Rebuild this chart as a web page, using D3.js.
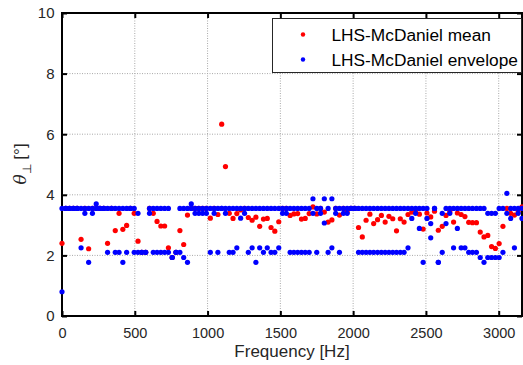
<!DOCTYPE html>
<html lang="en">
  <head>
    <meta charset="UTF-8" />
    <title>d3</title>
    <script src="https://d3js.org/d3.v7.min.js"></script>
    <style>
      body { margin: 0; background: #fff; }
      svg text { font-family: 'Liberation Sans', Arial, sans-serif; }
      .grid line { stroke: #a8a8a8; stroke-width: 1; stroke-dasharray: 1, 1.5; }
    </style>
  </head>
  <body></body>
  <script type="text/javascript">
    var width = 523,
      height = 365;

    // frequencies [Hz]
    var freq = [
      0, 26, 52, 78, 104, 131, 157, 183, 209, 235,
      261, 287, 313, 340, 366, 392, 418, 444, 470, 496,
      522, 548, 575, 601, 627, 653, 679, 705, 731, 757,
      783, 810, 836, 862, 888, 914, 940, 966, 992, 1019,
      1045, 1071, 1097, 1123, 1149, 1175, 1201, 1227, 1254, 1280,
      1306, 1332, 1358, 1384, 1410, 1436, 1462, 1489, 1515, 1541,
      1567, 1593, 1619, 1645, 1671, 1698, 1724, 1750, 1776, 1802,
      1828, 1854, 1880, 1906, 1933, 1959, 1985, 2011, 2037, 2063,
      2089, 2115, 2141, 2168, 2194, 2220, 2246, 2272, 2298, 2324,
      2350, 2377, 2403, 2429, 2455, 2481, 2507, 2533, 2559, 2585,
      2612, 2638, 2664, 2690, 2716, 2742, 2768, 2794, 2820, 2847,
      2873, 2899, 2925, 2951, 2977, 3003, 3029, 3056, 3082, 3108,
      3134, 3160
    ];

    // LHS-McDaniel mean
    var meanTheta = [
      2.40, 3.55, 3.55, 3.55, 3.55, 2.53, 3.55, 2.22, 3.55, 3.55,
      3.55, 3.55, 2.40, 3.55, 2.82, 3.39, 2.86, 2.99, 3.55, 3.39,
      2.47, 2.10, 2.10, 3.55, 3.39, 3.12, 2.97, 2.97, 2.25, 1.93,
      2.10, 2.82, 2.36, 3.33, 3.55, 3.55, 3.55, 3.55, 3.55, 3.23,
      3.55, 3.35, 6.33, 4.93, 3.39, 3.22, 3.38, 3.50, 3.55, 3.25,
      3.16, 3.26, 2.96, 3.20, 3.22, 2.92, 2.80, 3.11, 3.55, 3.55,
      3.32, 3.37, 3.38, 3.20, 3.22, 3.38, 3.60, 3.37, 3.55, 3.43,
      3.10, 3.17, 3.55, 3.33, 3.55, 3.44, 3.55, 3.55, 2.92, 2.61,
      3.16, 3.36, 3.05, 3.18, 3.32, 3.10, 3.29, 3.21, 2.81, 3.21,
      3.10, 3.35, 3.43, 3.45, 3.36, 2.87, 3.40, 3.27, 3.46, 2.83,
      2.96, 3.32, 3.45, 3.10, 3.40, 3.35, 3.28, 3.09, 3.08, 3.08,
      2.77, 2.61, 2.66, 2.29, 2.23, 2.39, 2.96, 3.55, 3.39, 3.33,
      3.44, 3.60
    ];

    // LHS-McDaniel envelope, upper and lower
    var envUpper = [
      3.55, 3.55, 3.55, 3.55, 3.55, 3.55, 3.55, 3.55, 3.55, 3.70,
      3.55, 3.55, 3.55, 3.55, 3.55, 3.55, 3.55, 3.55, 3.55, 3.55,
      3.39, 2.10, 2.10, 3.55, 3.55, 3.55, 3.55, 3.55, 3.55, 1.93,
      2.10, 3.55, 3.55, 3.55, 3.70, 3.55, 3.55, 3.55, 3.55, 3.55,
      3.55, 3.55, 3.55, 3.55, 3.55, 3.55, 3.55, 3.55, 3.55, 3.55,
      3.55, 3.55, 3.55, 3.55, 3.55, 3.55, 3.55, 3.55, 3.55, 3.55,
      3.55, 3.55, 3.55, 3.55, 3.55, 3.55, 3.87, 3.55, 3.55, 3.87,
      3.55, 3.87, 3.55, 3.55, 3.55, 3.55, 3.55, 3.55, 3.55, 3.55,
      3.55, 3.55, 3.55, 3.55, 3.55, 3.55, 3.55, 3.55, 3.55, 3.55,
      3.55, 3.55, 3.55, 3.55, 3.55, 3.55, 3.55, 3.05, 3.55, 1.77,
      3.39, 3.55, 3.55, 3.55, 3.55, 3.55, 3.55, 3.55, 3.55, 3.55,
      3.55, 3.55, 3.39, 3.39, 3.39, 3.55, 3.55, 4.05, 3.55, 3.55,
      3.55, 3.55
    ];
    var envLower = [
      0.80, 3.55, 3.55, 3.55, 3.55, 2.25, 3.39, 1.77, 3.39, 3.55,
      3.55, 3.55, 2.10, 3.55, 2.10, 2.10, 1.77, 2.10, 3.55, 2.10,
      2.10, 2.10, 2.10, 3.39, 2.10, 2.10, 2.10, 2.10, 2.10, 1.93,
      2.10, 2.10, 1.93, 1.77, 3.55, 3.39, 3.39, 3.39, 3.39, 2.10,
      3.39, 2.10, 3.55, 3.39, 2.10, 2.10, 2.25, 3.23, 3.39, 2.10,
      2.25, 1.77, 2.25, 2.10, 2.25, 2.10, 2.10, 2.25, 3.39, 3.39,
      2.10, 2.10, 2.10, 2.10, 2.10, 2.10, 3.39, 2.10, 3.39, 3.07,
      2.10, 2.25, 3.39, 2.10, 3.39, 3.39, 3.55, 3.55, 2.10, 2.10,
      2.10, 2.10, 2.10, 2.10, 2.10, 2.10, 2.10, 2.10, 2.10, 2.10,
      2.10, 2.25, 3.22, 3.39, 2.89, 1.77, 3.22, 2.58, 3.55, 1.77,
      2.10, 3.05, 3.39, 2.25, 2.89, 2.25, 2.25, 2.10, 2.10, 2.10,
      1.93, 1.77, 1.93, 1.93, 1.93, 1.93, 2.10, 3.39, 3.22, 2.25,
      3.39, 3.22
    ];

    var xTicks = [0, 500, 1000, 1500, 2000, 2500, 3000];
    var yTicks = [0, 2, 4, 6, 8, 10];
    var seriesNames = ['LHS-McDaniel mean', 'LHS-McDaniel envelope'];
    var seriesColors = ['#ff0000', '#0000ff'];

    var pL = 62, pR = 522, pT = 13, pB = 316;

    var x = d3.scaleLinear().domain([0, 3160]).range([pL, pR]);
    var y = d3.scaleLinear().domain([0, 10]).range([pB, pT]);

    var svg = d3.select('body').append('svg')
      .attr('width', width)
      .attr('height', height);

    // grid
    var grid = svg.append('g').attr('class', 'grid');
    grid.selectAll('.gx').data(xTicks.slice(1)).enter().append('line')
      .attr('x1', d => x(d)).attr('x2', d => x(d))
      .attr('y1', pT).attr('y2', pB);
    grid.selectAll('.gy').data(yTicks.slice(1, -1)).enter().append('line')
      .attr('x1', pL).attr('x2', pR)
      .attr('y1', d => y(d)).attr('y2', d => y(d));

    // axes (ticks inward on all sides)
    var tk = 5;
    var xb = svg.append('g').attr('transform', `translate(0,${pB})`)
      .call(d3.axisBottom(x).tickValues(xTicks).tickSize(-tk).tickPadding(12).tickFormat(d3.format('d')));
    var yl = svg.append('g').attr('transform', `translate(${pL},0)`)
      .call(d3.axisLeft(y).tickValues(yTicks).tickSize(-tk).tickPadding(7.5).tickFormat(d3.format('d')));
    var xt = svg.append('g').attr('transform', `translate(0,${pT})`)
      .call(d3.axisTop(x).tickValues(xTicks).tickSize(-tk).tickFormat(''));
    var yr = svg.append('g').attr('transform', `translate(${pR},0)`)
      .call(d3.axisRight(y).tickValues(yTicks).tickSize(-tk).tickFormat(''));
    [xb, yl, xt, yr].forEach(function (g) {
      g.select('.domain').remove();
      g.selectAll('.tick line').attr('stroke', '#000').attr('stroke-width', 2);
      g.selectAll('.tick text').attr('fill', '#262626');
    });
    xb.selectAll('.tick text').style('font-size', '14.5px');
    yl.selectAll('.tick text').style('font-size', '15px');

    svg.append('rect')
      .attr('x', pL).attr('y', pT)
      .attr('width', pR - pL).attr('height', pB - pT)
      .attr('fill', 'none').attr('stroke', '#000').attr('stroke-width', 2);

    // data
    var r = 2.6;
    svg.append('g').selectAll('circle').data(freq).enter().append('circle')
      .attr('cx', d => x(d))
      .attr('cy', (d, i) => y(meanTheta[i]))
      .attr('r', r).attr('fill', seriesColors[0]);
    var env = svg.append('g');
    env.selectAll('.up').data(freq).enter().append('circle')
      .attr('cx', d => x(d))
      .attr('cy', (d, i) => y(envUpper[i]))
      .attr('r', r).attr('fill', seriesColors[1]);
    env.selectAll('.lo').data(freq).enter().append('circle')
      .attr('cx', d => x(d))
      .attr('cy', (d, i) => y(envLower[i]))
      .attr('r', r).attr('fill', seriesColors[1]);

    // axis labels
    svg.append('text')
      .attr('x', (pL + pR) / 2).attr('y', 357)
      .attr('text-anchor', 'middle')
      .style('font-size', '17px').attr('fill', '#262626')
      .text('Frequency [Hz]');

    var yLabel = svg.append('text')
      .attr('transform', 'translate(26,164) rotate(-90)')
      .attr('text-anchor', 'middle')
      .style('font-size', '17px').attr('fill', '#262626');
    yLabel.append('tspan').style('font-style', 'italic').style('font-family', 'DejaVu Serif, serif').text('θ');
    yLabel.append('tspan').attr('dy', 5).style('font-size', '12px').text('⊥');
    yLabel.append('tspan').attr('dy', -5).text(' [°]');

    // legend
    var lg = svg.append('g');
    lg.append('rect')
      .attr('x', 272.5).attr('y', 18.5).attr('width', 249).attr('height', 54)
      .attr('fill', '#fff').attr('stroke', '#262626').attr('stroke-width', 1);
    seriesNames.forEach(function (name, i) {
      var cy = 34.5 + i * 25;
      lg.append('circle').attr('cx', 303).attr('cy', cy).attr('r', 2.2).attr('fill', seriesColors[i]);
      lg.append('text').attr('x', 331.5).attr('y', cy + 6)
        .style('font-size', '17.3px').attr('fill', '#000').text(name);
    });
  </script>
</html>
